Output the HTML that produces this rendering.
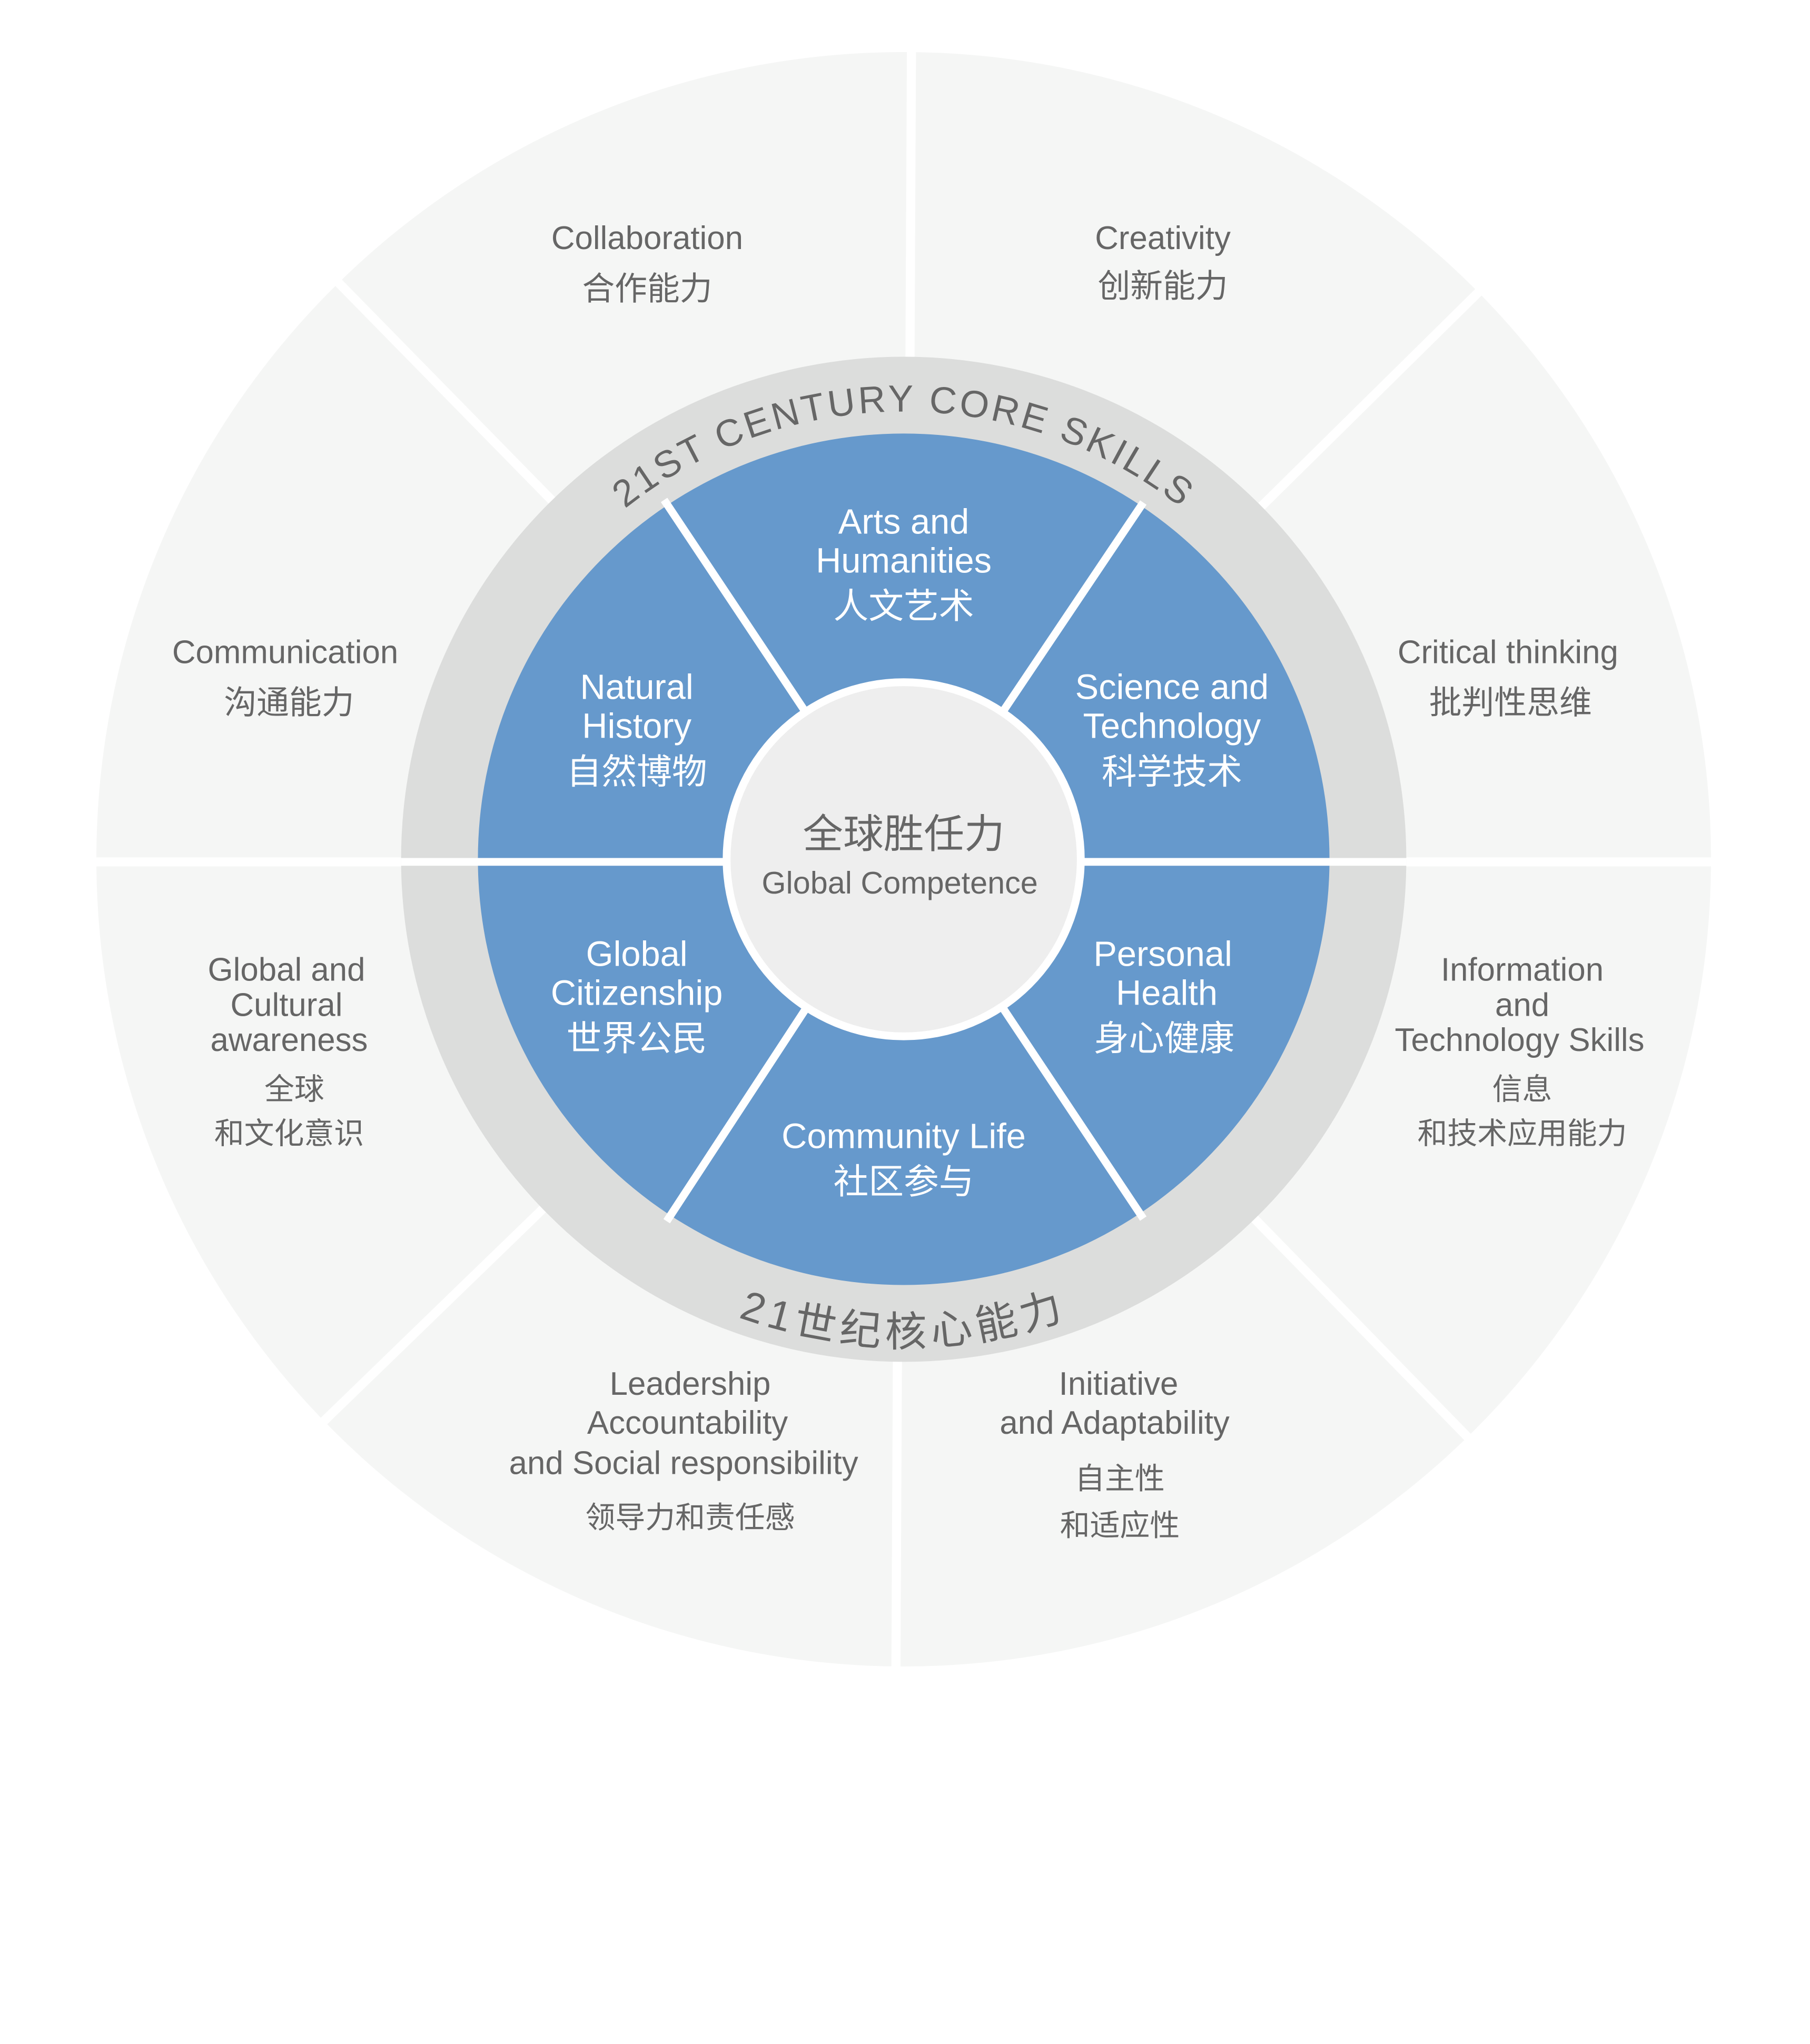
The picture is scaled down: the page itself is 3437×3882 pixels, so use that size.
<!DOCTYPE html>
<html><head><meta charset="utf-8"><style>
html,body{margin:0;padding:0;background:#fff;}
svg{display:block;}
text{font-family:"Liberation Sans","Noto Sans CJK SC",sans-serif;}
</style></head><body>
<svg width="3437" height="3882" viewBox="0 0 1390 1570" xmlns="http://www.w3.org/2000/svg">
<rect width="1390" height="1570" fill="#fff"/>
<circle cx="694" cy="660" r="620" fill="#f5f6f5"/>
<g stroke="#fff" stroke-width="7">
<line x1="700" y1="30" x2="697" y2="660"/>
<line x1="688" y1="1290" x2="691" y2="660"/>
<line x1="60" y1="662" x2="1330" y2="662"/>
<line x1="250" y1="207" x2="694" y2="660"/>
<line x1="1145" y1="215" x2="694" y2="660"/>
<line x1="240" y1="1100" x2="694" y2="660"/>
<line x1="1138" y1="1115" x2="694" y2="660"/>
</g>
<circle cx="694" cy="660" r="386" fill="#dcdddc"/>
<circle cx="694" cy="660" r="327" fill="#6699cc"/>
<g stroke="#fff" stroke-width="6">
<line x1="308" y1="662" x2="1080" y2="662"/>
<line x1="694" y1="660" x2="510" y2="384"/>
<line x1="694" y1="660" x2="878" y2="386"/>
<line x1="694" y1="660" x2="512" y2="938"/>
<line x1="694" y1="660" x2="878" y2="936"/>
</g>
<circle cx="694" cy="660" r="139" fill="#fff"/>
<circle cx="694" cy="660" r="133" fill="#eeeeee"/>
<defs>
<path id="topArc" d="M 350 660 A 344 344 0 0 1 1038 660"/>
<path id="botArc" d="M 320 660 A 374 374 0 0 0 1068 660"/>
</defs>
<text font-size="29" fill="#666" letter-spacing="2"><textPath href="#topArc" startOffset="50%" text-anchor="middle">21ST CENTURY CORE SKILLS</textPath></text>
<text font-size="32" fill="#666" letter-spacing="4"><textPath href="#botArc" startOffset="50%" text-anchor="middle">21世纪核心能力</textPath></text>

<g fill="#666" text-anchor="middle" dominant-baseline="central" font-size="25">
<text x="497" y="183">Collaboration</text><text x="497" y="222">合作能力</text>
<text x="893" y="183">Creativity</text><text x="893" y="220">创新能力</text>
<text x="219" y="501">Communication</text><text x="222" y="540">沟通能力</text>
<text x="1158" y="501">Critical thinking</text><text x="1160" y="540">批判性思维</text>
<text x="220" y="745">Global and</text><text x="220" y="772">Cultural</text><text x="222" y="799">awareness</text>
<text x="226" y="837" font-size="23">全球</text><text x="222" y="871" font-size="23">和文化意识</text>
<text x="1169" y="745">Information</text><text x="1169" y="772">and</text><text x="1167" y="799">Technology Skills</text>
<text x="1169" y="837" font-size="23">信息</text><text x="1169" y="871" font-size="23">和技术应用能力</text>
<text x="530" y="1063">Leadership</text><text x="528" y="1093">Accountability</text><text x="525" y="1124">and Social responsibility</text>
<text x="530" y="1166" font-size="23">领导力和责任感</text>
<text x="859" y="1063">Initiative</text><text x="856" y="1093">and Adaptability</text>
<text x="860" y="1136" font-size="23">自主性</text><text x="860" y="1172" font-size="23">和适应性</text>
<text x="694" y="641" font-size="31">全球胜任力</text>
<text x="691" y="678" font-size="24">Global Competence</text>
</g>
<g fill="#fff" text-anchor="middle" dominant-baseline="central" font-size="27">
<text x="694" y="401">Arts and</text><text x="694" y="431">Humanities</text><text x="694" y="466">人文艺术</text>
<text x="489" y="528">Natural</text><text x="489" y="558">History</text><text x="489" y="593">自然博物</text>
<text x="900" y="528">Science and</text><text x="900" y="558">Technology</text><text x="900" y="593">科学技术</text>
<text x="489" y="733">Global</text><text x="489" y="763">Citizenship</text><text x="489" y="798">世界公民</text>
<text x="893" y="733">Personal</text><text x="896" y="763">Health</text><text x="894" y="798">身心健康</text>
<text x="694" y="873">Community Life</text><text x="694" y="908">社区参与</text>
</g>
</svg>
</body></html>
